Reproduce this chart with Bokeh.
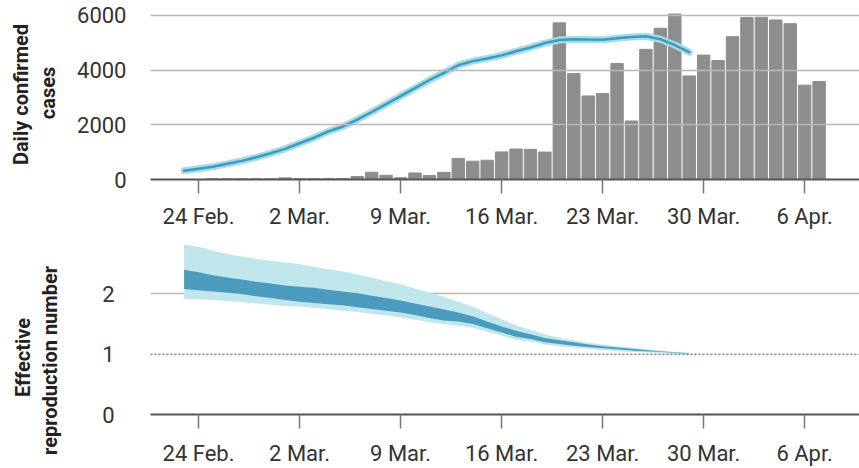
import pandas as pd
from math import pi
from bokeh.plotting import figure
from bokeh.layouts import column, row
from bokeh.models import FixedTicker, Range1d, Span, Label
from bokeh.embed import file_html
from bokeh.resources import INLINE

# ---------------- data ----------------
bar_start = "2020-02-25"
bar_end = "2020-04-07"
daily_cases = [25, 25, 25, 25, 25,
               60, 30, 30, 30, 40, 110, 265, 155, 65, 240, 147, 262, 772, 668, 705,
               1010, 1114, 1103, 1004, 5730, 3875, 3057, 3147, 4246, 2140, 4761, 5533,
               6050, 3789, 4550, 4352,
               5225, 5925, 5935, 5835, 5700, 3452, 3587]

est_start = "2020-02-23"
est_end = "2020-03-29"
nowcast = [324, 392, 468, 574, 682, 812, 958, 1122, 1325, 1527, 1762, 1940, 2190, 2470,
           2756, 3050, 3340, 3640, 3900, 4180, 4330, 4430, 4540, 4690, 4830, 4990, 5100,
           5133, 5120, 5110, 5170, 5210, 5240, 5130, 4920, 4660]

r_outer_hi = [2.82, 2.78, 2.72, 2.66, 2.62, 2.58, 2.55, 2.52, 2.49, 2.45, 2.41, 2.37, 2.32,
              2.27, 2.21, 2.16, 2.09, 2.02, 1.95, 1.87, 1.79, 1.68, 1.58, 1.48, 1.40, 1.33,
              1.27, 1.23, 1.19, 1.16, 1.13, 1.11, 1.08, 1.06, 1.04, 1.02]
r_inner_hi = [2.40, 2.36, 2.31, 2.27, 2.24, 2.20, 2.17, 2.14, 2.12, 2.10, 2.07, 2.04, 2.01,
              1.97, 1.93, 1.89, 1.84, 1.79, 1.74, 1.69, 1.63, 1.54, 1.46, 1.39, 1.33, 1.27,
              1.23, 1.20, 1.16, 1.13, 1.11, 1.09, 1.07, 1.05, 1.03, 1.02]
r_inner_lo = [2.08, 2.06, 2.04, 2.02, 2.00, 1.96, 1.93, 1.90, 1.87, 1.85, 1.83, 1.81, 1.78,
              1.75, 1.72, 1.69, 1.65, 1.60, 1.56, 1.54, 1.50, 1.43, 1.36, 1.29, 1.25, 1.20,
              1.17, 1.14, 1.12, 1.10, 1.08, 1.06, 1.05, 1.04, 1.02, 1.01]
r_outer_lo = [1.92, 1.91, 1.90, 1.88, 1.86, 1.84, 1.82, 1.80, 1.79, 1.77, 1.75, 1.72, 1.70,
              1.67, 1.64, 1.61, 1.57, 1.53, 1.50, 1.47, 1.44, 1.37, 1.31, 1.24, 1.21, 1.16,
              1.13, 1.11, 1.09, 1.07, 1.05, 1.04, 1.03, 1.02, 1.01, 1.00]

tick_dates = ["2020-02-24", "2020-03-02", "2020-03-09", "2020-03-16",
              "2020-03-23", "2020-03-30", "2020-04-06"]
tick_labels = ["24 Feb.", "2 Mar.", "9 Mar.", "16 Mar.", "23 Mar.", "30 Mar.", "6 Apr."]

cases_ticks = [0, 2000, 4000, 6000]
cases_grid = [2000, 4000, 6000]
r_ticks = [0, 1, 2]
r_grid = [2]
r_threshold = 1

title_lines = ["Daily confirmed", "cases", "Effective", "reproduction number"]

# ---------------- style / layout ----------------
FONT = "Roboto"
BAR = "#8d8d8d"
LIGHT = "#bfe6eb"
DARK = "#4b9bbf"
LINE = "#3a9cc1"
HALO = "#a8dbe8"
GRID = "#b8b8b8"
TXT = "#333333"
TITLE_W = 70
MAIN_W = 859 - TITLE_W
TOP_H = 232
BOT_H = 236
# centre (x, y) of each rotated title line, in page pixels
title_pos = [(20.5, 94), (47.5, 92.5), (22.5, 357), (49.5, 360)]

bar_x = pd.date_range(bar_start, bar_end)
est_x = pd.date_range(est_start, est_end)
tick_ms = [pd.Timestamp(d).value // 10**6 for d in tick_dates]
overrides = {t: l for t, l in zip(tick_ms, tick_labels)}

x_range = Range1d(start=pd.Timestamp("2020-02-20 16:10"), end=pd.Timestamp("2020-04-09 19:10"))
DAY_MS = 86400000


def style(p, yticks, ygrid, ystandoff, tick_out, xstandoff):
    p.outline_line_color = None
    p.background_fill_color = "white"
    p.border_fill_color = "white"
    p.xgrid.grid_line_color = None
    p.ygrid.ticker = FixedTicker(ticks=ygrid)
    p.ygrid.grid_line_color = GRID
    p.ygrid.grid_line_width = 1.5
    p.ygrid.level = "annotation"
    p.xaxis.ticker = FixedTicker(ticks=tick_ms)
    p.xaxis.major_label_overrides = overrides
    p.xaxis.axis_line_color = "#555555"
    p.xaxis.axis_line_width = 2
    p.xaxis.major_tick_line_color = "#777777"
    p.xaxis.major_tick_line_width = 1.5
    p.xaxis.major_tick_in = 0
    p.xaxis.major_tick_out = tick_out
    p.xaxis.minor_tick_line_color = None
    p.xaxis.major_label_standoff = xstandoff
    p.yaxis.ticker = FixedTicker(ticks=yticks)
    p.yaxis.axis_line_color = None
    p.yaxis.major_tick_line_color = None
    p.yaxis.minor_tick_line_color = None
    p.yaxis.major_label_standoff = ystandoff
    for ax in (p.xaxis, p.yaxis):
        ax.major_label_text_font = FONT
        ax.major_label_text_font_size = "22px"
        ax.major_label_text_color = TXT


# ---------------- rotated y titles (own narrow figure, range == pixels) ----------------
t = figure(width=TITLE_W, height=TOP_H + BOT_H, x_range=Range1d(0, TITLE_W),
           y_range=Range1d(TOP_H + BOT_H, 0), x_axis_type=None, y_axis_type=None,
           output_backend="svg", toolbar_location=None, min_border=0)
t.outline_line_color = None
t.grid.grid_line_color = None
for text, (cx, cy) in zip(title_lines, title_pos):
    t.add_layout(Label(x=cx, y=cy, text=text, angle=pi / 2,
                       text_align="center", text_baseline="middle",
                       text_font=FONT, text_font_size="20px", text_font_style="bold",
                       text_color="#222222"))

# ---------------- top: daily cases ----------------
p1 = figure(width=MAIN_W, height=TOP_H, x_axis_type="datetime", x_range=x_range,
            y_range=Range1d(0, 6402), output_backend="svg", toolbar_location=None,
            min_border_left=150 - TITLE_W, min_border_right=0, min_border_top=4,
            min_border_bottom=53)
p1.vbar(x=bar_x, top=daily_cases, width=0.86 * DAY_MS, color=BAR)
p1.line(x=est_x, y=nowcast, line_width=7, color=HALO, line_cap="round")
p1.line(x=est_x, y=nowcast, line_width=2.5, color=LINE, line_cap="round")
style(p1, cases_ticks, cases_grid, 18, 14, 10)

# ---------------- bottom: R ----------------
p2 = figure(width=MAIN_W, height=BOT_H, x_axis_type="datetime", x_range=x_range,
            y_range=Range1d(0, 2.885), output_backend="svg", toolbar_location=None,
            min_border_left=150 - TITLE_W, min_border_right=0, min_border_top=8,
            min_border_bottom=52)
p2.varea(x=est_x, y1=r_outer_lo, y2=r_outer_hi, color=LIGHT)
p2.varea(x=est_x, y1=r_inner_lo, y2=r_inner_hi, color=DARK)
p2.add_layout(Span(location=r_threshold, dimension="width", line_color="#444444",
                   line_width=1, line_dash="2 2"))
style(p2, r_ticks, r_grid, 30, 14, 12)
p2.ygrid.level = "underlay"

layout = row(t, column(p1, p2, spacing=0), spacing=0)
open("out.html", "w").write(file_html(layout, INLINE))
